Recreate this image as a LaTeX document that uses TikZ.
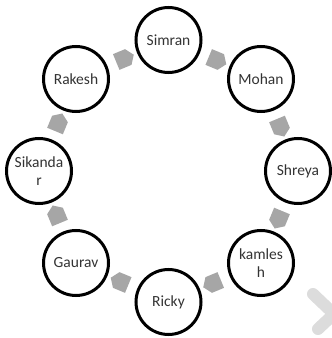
\documentclass[tikz,border=0pt]{standalone}
\usepackage{fontspec}
\setmainfont{Carlito}
\usepackage{tikz}
\usetikzlibrary{calc}
\usetikzlibrary{shapes.symbols}
\usepackage{xcolor}
\definecolor{flowgray}{HTML}{A6A6A6}
\definecolor{markgray}{HTML}{DCDCDC}

\begin{document}
\begin{tikzpicture}[x=1pt,y=1pt,
  person/.style={circle,draw=black,line width=3pt,inner sep=0pt,minimum size=65pt,
    align=center,font=\fontsize{15.5}{18}\selectfont,text=black!80},
  flow/.style={signal,signal to=east,signal pointer angle=110,fill=flowgray,draw=none,
    inner sep=0pt,minimum width=19pt,minimum height=17pt}]
  \clip (0,0) rectangle (332,338);
  \node[person] (simran) at (168.5,298) {Simran};
  \node[person] (mohan) at (261,259) {Mohan};
  \node[person] (shreya) at (298,167) {Shreya};
  \node[person] (kamlesh) at (261,75) {kamles\\h};
  \node[person] (ricky) at (168.5,36) {Ricky};
  \node[person] (gaurav) at (76,75) {Gaurav};
  \node[person] (sikandar) at (39,167) {Sikanda\\r};
  \node[person] (rakesh) at (76,259) {Rakesh};
  \node[flow,rotate=22.5] (f1) at ($(rakesh)!0.5!(simran)$) {};
  \node[flow,rotate=-22.5] (f2) at ($(simran)!0.5!(mohan)$) {};
  \node[flow,rotate=-67.5] (f3) at ($(mohan)!0.5!(shreya)$) {};
  \node[flow,rotate=-112.5] (f4) at ($(shreya)!0.5!(kamlesh)$) {};
  \node[flow,rotate=-157.5] (f5) at ($(kamlesh)!0.5!(ricky)$) {};
  \node[flow,rotate=157.5] (f6) at ($(ricky)!0.5!(gaurav)$) {};
  \node[flow,rotate=112.5] (f7) at ($(gaurav)!0.5!(sikandar)$) {};
  \node[flow,rotate=67.5] (f8) at ($(sikandar)!0.5!(rakesh)$) {};
  % faint mark in the corner
  \draw[markgray,line width=12pt,line cap=round,line join=round] (313,44) -- (334,24) -- (318,9);
\end{tikzpicture}
\end{document}
